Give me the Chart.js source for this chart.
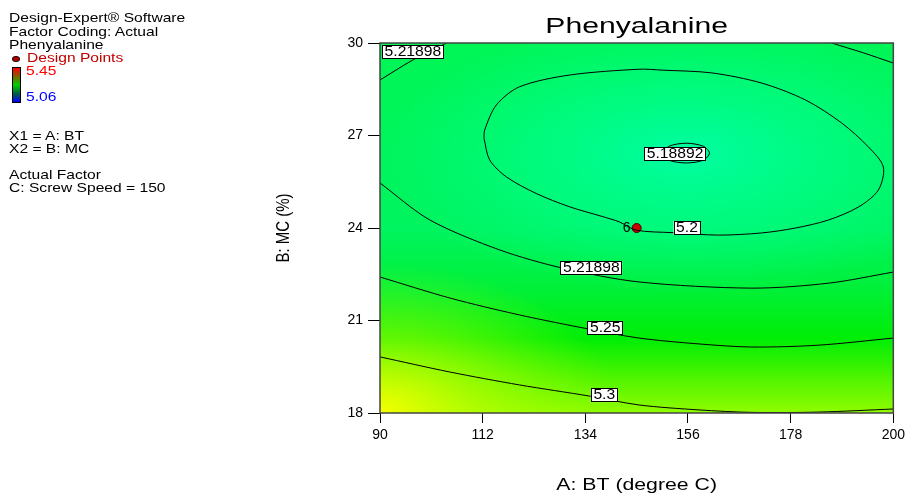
<!DOCTYPE html>
<html>
<head>
<meta charset="utf-8">
<script src="https://cdn.jsdelivr.net/npm/chart.js@4.4.1/dist/chart.umd.min.js"></script>
<style>
  body { margin: 0; background: #fff; font-family: "Liberation Sans", Arial, sans-serif; }
  #wrap { position: relative; width: 909px; height: 493px; }
  .t { position: absolute; left: 9px; font-size: 13px; line-height: 14px; white-space: nowrap;
       transform: scaleX(1.2); transform-origin: 0 50%; color: #000; }
  .red { color: #c00000; }
  .dot { position: absolute; left: 12px; top: 56px; width: 6px; height: 4px; border-radius: 50%; background: #a00000; border: 1px solid #300; }
  #bar { position: absolute; left: 12px; top: 67px; width: 7px; height: 34px; border: 1px solid #000;
         background: linear-gradient(#ff0000, #806000 25%, #00d000 50%, #006040 75%, #0000ff); }
</style>
</head>
<body>
<div id="wrap">
  <canvas id="chart" width="909" height="493"></canvas>
  <div class="t" style="top:11px">Design-Expert® Software</div>
  <div class="t" style="top:25px">Factor Coding: Actual</div>
  <div class="t" style="top:38px">Phenyalanine</div>
  <div class="dot"></div>
  <div class="t red" style="top:51px;left:27px">Design Points</div>
  <div id="bar"></div>
  <div class="t" style="top:64px;left:26px;color:#ff0000">5.45</div>
  <div class="t" style="top:90px;left:26px;color:#0000ff">5.06</div>
  <div class="t" style="top:129px">X1 = A: BT</div>
  <div class="t" style="top:142px">X2 = B: MC</div>
  <div class="t" style="top:168px">Actual Factor</div>
  <div class="t" style="top:181px">C: Screw Speed = 150</div>
</div>
<script>
const xTicks = [90, 112, 134, 156, 178, 200];
const yTicks = [18, 21, 24, 27, 30];

// contour lines (BT, MC)
const topLeftX = [104.3, 97.05, 90];
const topLeftY = [30, 29.45, 28.8];
const topRightX = [186.75, 193.6, 200];
const topRightY = [30, 29.68, 29.35];
const mid21898X = [90, 100.68, 115.63, 129.09, 145.53, 169.67, 186.11, 200];
const mid21898Y = [25.46, 24.26, 23.29, 22.70, 22.25, 22.05, 22.21, 22.57];
const line525X = [90, 104.95, 119.9, 134.85, 145.53, 158.35, 169.67, 183.98, 200];
const line525Y = [22.41, 21.73, 21.18, 20.72, 20.43, 20.24, 20.14, 20.20, 20.43];
const line53X = [90, 104.95, 119.9, 134.85, 145.53, 158.35, 169.67, 183.98, 200];
const line53Y = [19.82, 19.33, 18.91, 18.55, 18.26, 18.10, 18.02, 18.03, 18.13];
const ring52X = [112.28, 112.43, 114.93, 119.9, 130.58, 145.53, 150.44, 161.12, 171.8, 181.2, 188.89, 194.65, 197.86, 196.79, 192.52, 186.11, 179.06, 171.8, 162.62, 152.58, 144.89, 141.26, 137.69, 130.58, 123.47, 117.06, 113.49, 112.28];
const ring52Y = [26.91, 27.18, 27.99, 28.58, 28.96, 29.15, 29.12, 29.03, 28.7, 28.15, 27.41, 26.63, 25.98, 25.23, 24.68, 24.26, 24.0, 23.84, 23.77, 23.85, 23.93, 24.2, 24.37, 24.69, 25.12, 25.66, 26.21, 26.91];
const ring5189X = [150.6, 151.9, 155.6, 159.3, 160.6, 159.3, 155.6, 151.9, 150.6];
const ring5189Y = [26.43, 26.65, 26.75, 26.65, 26.43, 26.2, 26.11, 26.2, 26.43];

const contourLabels = ["5.21898", "5.18892", "5.2", "5.21898", "5.25", "5.3"];
const labelX = [97.05, 153.22, 155.78, 135.28, 138.27, 138.06];
const labelY = [29.71, 26.40, 24.0, 22.70, 20.76, 18.58];

const designX = [145];
const designY = [24];
const designCount = ["6"];

const FONT = "'Liberation Sans', Arial, sans-serif";
const pts = (xs, ys) => xs.map((x, i) => ({ x, y: ys[i] }));

const lineSet = (xs, ys) => ({
    data: pts(xs, ys),
    showLine: true,
    borderColor: "#000",
    borderWidth: 1,
    pointRadius: 0,
    tension: 0.3,
    fill: false
});

const decor = {
    id: "decor",
    beforeDatasetsDraw(chart) {
        const { ctx, chartArea: a, scales: { x, y } } = chart;
        ctx.save();
        ctx.beginPath();
        ctx.rect(a.left, a.top, a.right - a.left, a.bottom - a.top);
        ctx.clip();

        const g = ctx.createLinearGradient(0, a.top, 0, a.bottom);
        g.addColorStop(0, "rgb(0,245,85)");
        g.addColorStop(0.5, "rgb(0,244,95)");
        g.addColorStop(0.67, "rgb(0,240,55)");
        g.addColorStop(0.8, "rgb(0,238,5)");
        g.addColorStop(0.9, "rgb(75,244,0)");
        g.addColorStop(1, "rgb(145,252,0)");
        ctx.fillStyle = g;
        ctx.fillRect(a.left, a.top, a.right - a.left, a.bottom - a.top);

        // cyan core around the minimum
        const cx = x.getPixelForValue(155.6), cy = y.getPixelForValue(26.4);
        ctx.save();
        ctx.translate(cx, cy);
        ctx.scale(2.2, 1);
        const r = ctx.createRadialGradient(0, 0, 0, 0, 0, 140);
        r.addColorStop(0, "rgba(0,255,170,0.9)");
        r.addColorStop(0.5, "rgba(0,255,150,0.55)");
        r.addColorStop(1, "rgba(0,255,140,0)");
        ctx.fillStyle = r;
        ctx.fillRect(-300, -200, 600, 400);
        ctx.restore();

        // yellow corner
        const bx = x.getPixelForValue(90), by = y.getPixelForValue(18);
        ctx.save();
        ctx.translate(bx, by);
        ctx.scale(1.6, 1);
        const yg = ctx.createRadialGradient(0, 0, 0, 0, 0, 150);
        yg.addColorStop(0, "rgba(245,255,0,1)");
        yg.addColorStop(0.4, "rgba(200,255,0,0.6)");
        yg.addColorStop(1, "rgba(150,255,0,0)");
        ctx.fillStyle = yg;
        ctx.fillRect(-10, -250, 400, 260);
        ctx.restore();

        ctx.restore();
    },
    afterDatasetsDraw(chart) {
        const { ctx, chartArea: a, scales: { x, y } } = chart;
        ctx.save();
        ctx.strokeStyle = "#444";
        ctx.lineWidth = 1.5;
        ctx.strokeRect(a.left, a.top, a.right - a.left, a.bottom - a.top);

        ctx.font = "14px " + FONT;
        ctx.textAlign = "center";
        ctx.textBaseline = "middle";
        contourLabels.forEach((t, i) => {
            const px = x.getPixelForValue(labelX[i]);
            const py = y.getPixelForValue(labelY[i]);
            const w = ctx.measureText(t).width * 1.12 + 5;
            ctx.fillStyle = "#fff";
            ctx.fillRect(px - w / 2, py - 7, w, 14);
            ctx.strokeStyle = "#000";
            ctx.lineWidth = 1;
            ctx.strokeRect(Math.round(px - w / 2) + 0.5, Math.round(py - 7) + 0.5, Math.round(w) - 1, 13);
            ctx.fillStyle = "#000";
            ctx.save();
            ctx.translate(px, py + 0.5);
            ctx.scale(1.12, 1);
            ctx.fillText(t, 0, 0);
            ctx.restore();
        });

        ctx.textAlign = "right";
        designCount.forEach((t, i) => {
            ctx.fillText(t, x.getPixelForValue(designX[i]) - 6, y.getPixelForValue(designY[i]));
        });
        ctx.restore();
    },
    afterDraw(chart) {
        const { ctx, chartArea: a } = chart;
        const mid = (a.left + a.right) / 2;
        ctx.save();
        ctx.fillStyle = "#000";
        ctx.textAlign = "center";
        ctx.textBaseline = "alphabetic";

        ctx.save();
        ctx.translate(mid, 33);
        ctx.scale(1.37, 1);
        ctx.font = "22px " + FONT;
        ctx.fillText("Phenyalanine", 0, 0);
        ctx.restore();

        ctx.save();
        ctx.translate(mid, 490);
        ctx.scale(1.25, 1);
        ctx.font = "17px " + FONT;
        ctx.fillText("A: BT (degree C)", 0, 0);
        ctx.restore();

        ctx.save();
        ctx.translate(289, (a.top + a.bottom) / 2);
        ctx.rotate(-Math.PI / 2);
        ctx.scale(1, 1.2);
        ctx.font = "15px " + FONT;
        ctx.fillText("B: MC (%)", 0, 0);
        ctx.restore();

        ctx.restore();
    }
};

new Chart(document.getElementById("chart"), {
    type: "scatter",
    data: {
        datasets: [
            lineSet(topLeftX, topLeftY),
            lineSet(topRightX, topRightY),
            lineSet(mid21898X, mid21898Y),
            lineSet(line525X, line525Y),
            lineSet(line53X, line53Y),
            lineSet(ring52X, ring52Y),
            lineSet(ring5189X, ring5189Y),
            {
                data: pts(designX, designY),
                pointRadius: 4.5,
                backgroundColor: "#cc0000",
                borderColor: "#400000",
                borderWidth: 1
            }
        ]
    },
    options: {
        responsive: false,
        animation: false,
        devicePixelRatio: 1,
        layout: { padding: { left: 273, right: 14, top: 43, bottom: 0 } },
        plugins: { legend: { display: false }, tooltip: { enabled: false } },
        scales: {
            x: {
                type: "linear",
                min: 90, max: 200,
                afterBuildTicks: s => { s.ticks = xTicks.map(v => ({ value: v })); },
                afterFit: s => { s.height = 80; },
                grid: { drawOnChartArea: false, tickLength: 10, color: "#000" },
                border: { display: false },
                ticks: { color: "#000", padding: 4, maxRotation: 0, font: { family: FONT, size: 14 } },
                title: { display: false }
            },
            y: {
                type: "linear",
                min: 18, max: 30,
                afterBuildTicks: s => { s.ticks = yTicks.map(v => ({ value: v })); },
                afterFit: s => { s.width = 107; },
                grid: { drawOnChartArea: false, tickLength: 12, color: "#000" },
                border: { display: false },
                ticks: { color: "#000", padding: 5, font: { family: FONT, size: 14 } },
                title: { display: false }
            }
        }
    },
    plugins: [decor]
});
</script>
</body>
</html>
